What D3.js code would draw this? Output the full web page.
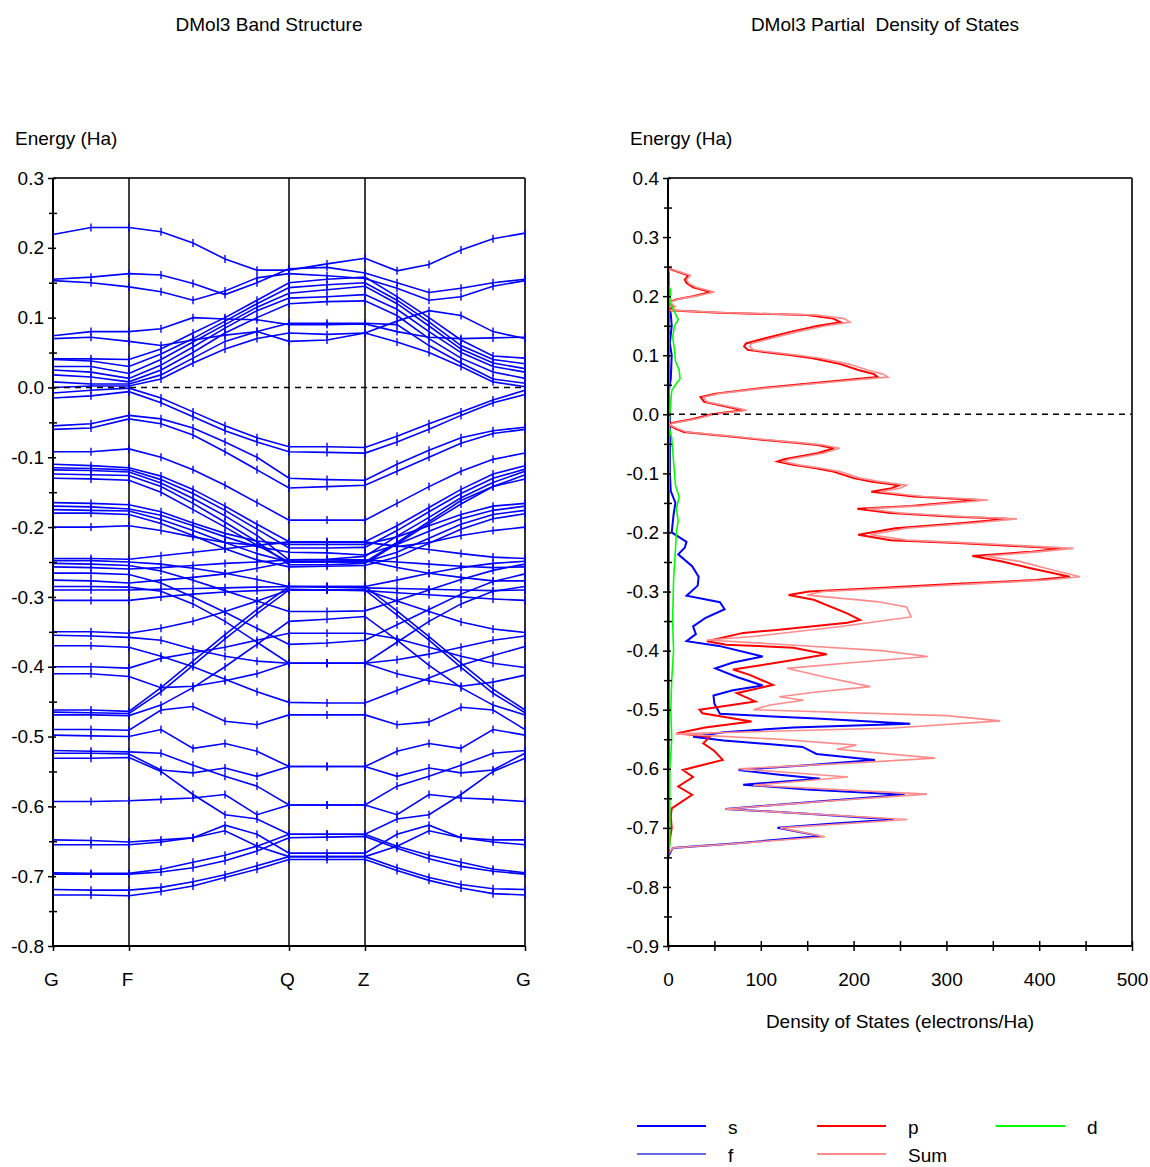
<!DOCTYPE html>
<html><head><meta charset="utf-8">
<script src="https://cdn.jsdelivr.net/npm/d3@7"></script>
<style>
body{margin:0;background:#fff;}
text{font-family:"Liberation Sans",Arial,sans-serif;font-size:19px;fill:#000;}
</style>
</head><body>
<svg id="chart" width="1150" height="1167"></svg>
<script>
// ---------------- DATA ----------------
// k-path distances of the 15 k-points (G,k1,F,k3,k4,k5,k6,Q,k8,Z,k10,k11,k12,k13,G)
const kDist = [0, 0.38, 0.76, 1.08, 1.40, 1.72, 2.04, 2.36, 2.74, 3.12, 3.44, 3.76, 4.08, 4.40, 4.72];
const kLabels = ["G", "F", "Q", "Z", "G"];
const kLabelIndex = [0, 2, 7, 9, 14];
const bandYTicks = [0.3, 0.2, 0.1, 0.0, -0.1, -0.2, -0.3, -0.4, -0.5, -0.6, -0.7, -0.8];
const bandYMinor = [0.25, 0.15, 0.05, -0.05, -0.15, -0.25, -0.35, -0.45, -0.55, -0.65, -0.75];
const dosYTicks = [0.4, 0.3, 0.2, 0.1, 0.0, -0.1, -0.2, -0.3, -0.4, -0.5, -0.6, -0.7, -0.8, -0.9];
const dosYMinor = [0.35, 0.25, 0.15, 0.05, -0.05, -0.15, -0.25, -0.35, -0.45, -0.55, -0.65, -0.75, -0.85];
const dosXTicks = [0, 100, 200, 300, 400, 500];
const dosXMinor = [50, 150, 250, 350, 450];

// Conduction bands (Ha)
const conductionBands = [
  [0.219,0.229,0.229,0.223,0.207,0.184,0.168,0.168,0.177,0.185,0.167,0.176,0.197,0.213,0.221],
  [0.155,0.158,0.163,0.161,0.149,0.133,0.150,0.170,0.172,0.164,0.150,0.136,0.142,0.150,0.155],
  [0.153,0.150,0.144,0.137,0.125,0.138,0.157,0.163,0.160,0.156,0.142,0.125,0.130,0.145,0.153],
  [0.074,0.080,0.080,0.084,0.100,0.098,0.097,0.090,0.090,0.091,0.080,0.072,0.070,0.071,0.072],
  [0.070,0.072,0.066,0.060,0.068,0.075,0.080,0.066,0.068,0.078,0.095,0.110,0.103,0.080,0.070],
  [0.041,0.041,0.040,0.055,0.078,0.100,0.125,0.150,0.155,0.158,0.130,0.100,0.068,0.045,0.042],
  [0.040,0.038,0.030,0.048,0.070,0.095,0.120,0.143,0.147,0.150,0.125,0.094,0.060,0.040,0.034],
  [0.030,0.030,0.020,0.040,0.065,0.090,0.115,0.135,0.140,0.145,0.120,0.088,0.055,0.035,0.027],
  [0.025,0.022,0.013,0.032,0.058,0.085,0.110,0.128,0.130,0.133,0.112,0.080,0.050,0.030,0.022],
  [0.018,0.015,0.008,0.025,0.050,0.078,0.100,0.120,0.123,0.124,0.103,0.070,0.042,0.022,0.013],
  [0.008,0.005,0.005,0.018,0.042,0.066,0.080,0.092,0.092,0.092,0.090,0.060,0.035,0.012,0.006],
  [0.000,0.002,0.002,0.012,0.035,0.055,0.070,0.078,0.076,0.078,0.065,0.050,0.030,0.008,0.001]
];
// Upper valence bands (Ha)
const valenceBands = [
  [-0.008,-0.004,-0.001,-0.015,-0.035,-0.055,-0.072,-0.085,-0.085,-0.086,-0.070,-0.052,-0.035,-0.018,-0.004],
  [-0.015,-0.012,-0.006,-0.022,-0.042,-0.062,-0.078,-0.092,-0.093,-0.094,-0.078,-0.060,-0.040,-0.022,-0.010],
  [-0.055,-0.052,-0.040,-0.045,-0.058,-0.078,-0.100,-0.130,-0.132,-0.133,-0.110,-0.090,-0.072,-0.062,-0.057],
  [-0.060,-0.058,-0.045,-0.052,-0.068,-0.092,-0.118,-0.144,-0.142,-0.140,-0.120,-0.100,-0.080,-0.066,-0.060],
  [-0.092,-0.092,-0.088,-0.100,-0.118,-0.140,-0.165,-0.190,-0.190,-0.190,-0.166,-0.142,-0.120,-0.103,-0.094],
  [-0.110,-0.112,-0.115,-0.127,-0.146,-0.170,-0.196,-0.221,-0.221,-0.221,-0.198,-0.172,-0.146,-0.124,-0.112],
  [-0.115,-0.116,-0.118,-0.132,-0.152,-0.176,-0.203,-0.230,-0.230,-0.229,-0.205,-0.178,-0.152,-0.130,-0.117],
  [-0.118,-0.119,-0.121,-0.137,-0.159,-0.184,-0.212,-0.247,-0.246,-0.242,-0.213,-0.186,-0.158,-0.136,-0.120],
  [-0.124,-0.125,-0.126,-0.142,-0.166,-0.193,-0.221,-0.254,-0.254,-0.252,-0.224,-0.195,-0.167,-0.142,-0.125],
  [-0.130,-0.131,-0.133,-0.150,-0.175,-0.200,-0.226,-0.250,-0.250,-0.250,-0.222,-0.192,-0.162,-0.142,-0.131],
  [-0.165,-0.166,-0.168,-0.178,-0.194,-0.209,-0.220,-0.225,-0.225,-0.225,-0.214,-0.198,-0.182,-0.170,-0.166],
  [-0.170,-0.171,-0.174,-0.183,-0.198,-0.214,-0.228,-0.236,-0.237,-0.240,-0.225,-0.206,-0.188,-0.176,-0.170],
  [-0.175,-0.176,-0.177,-0.189,-0.205,-0.222,-0.238,-0.250,-0.250,-0.250,-0.236,-0.216,-0.196,-0.182,-0.176],
  [-0.180,-0.180,-0.182,-0.195,-0.212,-0.231,-0.247,-0.257,-0.256,-0.255,-0.243,-0.223,-0.203,-0.188,-0.181],
  [-0.200,-0.200,-0.198,-0.205,-0.214,-0.222,-0.226,-0.221,-0.221,-0.221,-0.228,-0.222,-0.212,-0.205,-0.200],
  [-0.245,-0.245,-0.246,-0.241,-0.236,-0.231,-0.226,-0.222,-0.222,-0.222,-0.227,-0.232,-0.238,-0.243,-0.245],
  [-0.248,-0.248,-0.250,-0.253,-0.259,-0.266,-0.275,-0.285,-0.285,-0.285,-0.276,-0.266,-0.258,-0.252,-0.249],
  [-0.252,-0.253,-0.255,-0.263,-0.276,-0.291,-0.306,-0.321,-0.321,-0.320,-0.305,-0.290,-0.275,-0.262,-0.253],
  [-0.257,-0.258,-0.260,-0.258,-0.255,-0.252,-0.250,-0.247,-0.247,-0.247,-0.250,-0.253,-0.256,-0.258,-0.257],
  [-0.266,-0.266,-0.268,-0.280,-0.300,-0.322,-0.345,-0.368,-0.366,-0.362,-0.340,-0.318,-0.296,-0.278,-0.267],
  [-0.276,-0.277,-0.280,-0.276,-0.272,-0.267,-0.259,-0.250,-0.249,-0.248,-0.258,-0.266,-0.272,-0.277,-0.277],
  [-0.285,-0.285,-0.286,-0.292,-0.310,-0.335,-0.365,-0.395,-0.395,-0.395,-0.365,-0.335,-0.310,-0.292,-0.285],
  [-0.290,-0.290,-0.290,-0.289,-0.288,-0.287,-0.286,-0.285,-0.286,-0.287,-0.288,-0.289,-0.290,-0.291,-0.290],
  [-0.305,-0.305,-0.305,-0.300,-0.296,-0.293,-0.291,-0.289,-0.290,-0.291,-0.294,-0.297,-0.300,-0.303,-0.305],
  [-0.350,-0.350,-0.352,-0.345,-0.335,-0.321,-0.306,-0.290,-0.290,-0.290,-0.306,-0.321,-0.336,-0.346,-0.351],
  [-0.355,-0.356,-0.358,-0.362,-0.375,-0.385,-0.392,-0.395,-0.395,-0.395,-0.390,-0.382,-0.372,-0.362,-0.356],
  [-0.370,-0.370,-0.372,-0.385,-0.400,-0.418,-0.436,-0.451,-0.452,-0.452,-0.434,-0.416,-0.398,-0.384,-0.371],
  [-0.400,-0.400,-0.402,-0.388,-0.380,-0.372,-0.362,-0.352,-0.352,-0.352,-0.360,-0.372,-0.385,-0.395,-0.401],
  [-0.410,-0.410,-0.414,-0.430,-0.428,-0.420,-0.410,-0.395,-0.395,-0.395,-0.410,-0.420,-0.428,-0.422,-0.412]
];
// Lower valence bands (Ha)
const lowerBands = [
  [-0.462,-0.462,-0.464,-0.430,-0.392,-0.354,-0.318,-0.285,-0.285,-0.285,-0.320,-0.357,-0.395,-0.432,-0.462],
  [-0.465,-0.466,-0.467,-0.436,-0.398,-0.360,-0.324,-0.290,-0.290,-0.290,-0.326,-0.362,-0.401,-0.438,-0.466],
  [-0.469,-0.469,-0.470,-0.455,-0.430,-0.400,-0.368,-0.335,-0.332,-0.328,-0.362,-0.398,-0.430,-0.455,-0.469],
  [-0.490,-0.490,-0.491,-0.462,-0.457,-0.478,-0.483,-0.469,-0.469,-0.469,-0.483,-0.479,-0.458,-0.462,-0.490],
  [-0.498,-0.499,-0.500,-0.490,-0.517,-0.510,-0.521,-0.543,-0.543,-0.543,-0.521,-0.510,-0.517,-0.490,-0.498],
  [-0.520,-0.521,-0.522,-0.524,-0.541,-0.557,-0.571,-0.598,-0.598,-0.598,-0.571,-0.557,-0.541,-0.524,-0.520],
  [-0.524,-0.524,-0.525,-0.548,-0.552,-0.545,-0.557,-0.543,-0.543,-0.543,-0.557,-0.545,-0.552,-0.548,-0.524],
  [-0.531,-0.531,-0.530,-0.550,-0.583,-0.612,-0.618,-0.640,-0.640,-0.640,-0.618,-0.612,-0.583,-0.550,-0.531],
  [-0.593,-0.593,-0.592,-0.590,-0.588,-0.583,-0.612,-0.598,-0.598,-0.598,-0.612,-0.583,-0.588,-0.590,-0.593],
  [-0.648,-0.649,-0.651,-0.648,-0.645,-0.627,-0.640,-0.667,-0.667,-0.667,-0.640,-0.627,-0.645,-0.648,-0.648],
  [-0.655,-0.655,-0.655,-0.651,-0.645,-0.635,-0.657,-0.672,-0.672,-0.672,-0.657,-0.635,-0.645,-0.651,-0.655],
  [-0.695,-0.696,-0.696,-0.690,-0.680,-0.670,-0.657,-0.640,-0.640,-0.640,-0.657,-0.670,-0.680,-0.690,-0.695],
  [-0.697,-0.697,-0.697,-0.694,-0.688,-0.678,-0.664,-0.645,-0.644,-0.643,-0.660,-0.675,-0.686,-0.693,-0.697],
  [-0.719,-0.720,-0.720,-0.716,-0.708,-0.698,-0.685,-0.672,-0.672,-0.672,-0.688,-0.702,-0.712,-0.718,-0.719],
  [-0.727,-0.727,-0.728,-0.722,-0.714,-0.702,-0.690,-0.676,-0.676,-0.676,-0.692,-0.706,-0.717,-0.725,-0.727]
];

// PDOS curves: [energy (Ha), DOS (electrons/Ha)]
const dosSum = [
[0.30,0],[0.25,0],[0.245,5],[0.235,24],[0.228,20],[0.222,22],[0.215,30],[0.207,50],[0.200,30],[0.195,12],[0.190,2],[0.182,8],[0.176,3],[0.172,60],[0.168,160],[0.162,190],[0.156,196],[0.150,170],[0.140,140],[0.130,115],[0.120,90],[0.115,88],[0.109,92],[0.100,140],[0.095,164],[0.085,195],[0.075,215],[0.068,232],[0.063,237],[0.055,180],[0.045,110],[0.035,55],[0.029,38],[0.021,42],[0.012,70],[0.007,85],[0.000,50],[-0.008,30],[-0.015,5],[-0.018,2],[-0.024,10],[-0.030,20],[-0.038,74],[-0.044,112],[-0.048,142],[-0.052,167],[-0.0575,185],[-0.066,167],[-0.076,131],[-0.080,124],[-0.086,142],[-0.091,164],[-0.097,185],[-0.108,207],[-0.114,228],[-0.120,257],[-0.125,250],[-0.131,228],[-0.139,275],[-0.145,345],[-0.155,272],[-0.160,214],[-0.167,250],[-0.173,315],[-0.177,376],[-0.184,329],[-0.193,257],[-0.204,218],[-0.213,257],[-0.218,329],[-0.227,437],[-0.2325,401],[-0.240,342],[-0.249,379],[-0.261,408],[-0.275,444],[-0.2805,408],[-0.287,329],[-0.2945,239],[-0.300,167],[-0.306,150],[-0.317,225],[-0.326,257],[-0.343,262],[-0.352,220],[-0.360,182],[-0.376,92],[-0.382,42],[-0.390,128],[-0.400,230],[-0.410,280],[-0.420,200],[-0.430,128],[-0.445,170],[-0.461,218],[-0.470,160],[-0.478,120],[-0.484,146],[-0.492,110],[-0.500,92],[-0.510,300],[-0.519,358],[-0.531,243],[-0.541,8],[-0.550,120],[-0.560,203],[-0.567,182],[-0.582,288],[-0.592,180],[-0.600,76],[-0.614,194],[-0.628,92],[-0.643,279],[-0.655,170],[-0.668,62],[-0.686,258],[-0.693,190],[-0.700,121],[-0.715,169],[-0.726,78],[-0.734,5],[-0.746,0],[-0.800,0]
];
const dosP = [
[0.25,0],[0.245,4],[0.235,22],[0.228,18],[0.222,20],[0.215,27],[0.207,46],[0.200,27],[0.195,10],[0.190,1],[0.182,5],[0.176,1],[0.172,55],[0.168,150],[0.162,178],[0.156,186],[0.150,162],[0.140,133],[0.130,108],[0.120,84],[0.115,82],[0.109,86],[0.100,133],[0.095,156],[0.085,186],[0.075,205],[0.068,222],[0.063,226],[0.055,172],[0.045,104],[0.035,51],[0.029,35],[0.021,39],[0.012,66],[0.007,81],[0.000,47],[-0.008,27],[-0.015,3],[-0.018,1],[-0.024,8],[-0.030,17],[-0.038,70],[-0.044,107],[-0.048,137],[-0.052,161],[-0.0575,179],[-0.066,161],[-0.076,125],[-0.080,118],[-0.086,136],[-0.091,158],[-0.097,178],[-0.108,200],[-0.114,220],[-0.120,249],[-0.125,241],[-0.131,219],[-0.139,265],[-0.145,335],[-0.155,262],[-0.160,204],[-0.167,240],[-0.173,304],[-0.177,365],[-0.184,318],[-0.193,245],[-0.204,205],[-0.213,240],[-0.218,312],[-0.227,425],[-0.2325,392],[-0.240,328],[-0.249,360],[-0.261,392],[-0.275,433],[-0.2805,396],[-0.287,312],[-0.2945,222],[-0.300,152],[-0.306,130],[-0.314,157],[-0.337,193],[-0.348,207],[-0.353,193],[-0.365,117],[-0.370,81],[-0.384,42],[-0.390,63],[-0.395,135],[-0.406,171],[-0.416,135],[-0.432,70],[-0.441,88],[-0.458,113],[-0.472,74],[-0.486,94],[-0.500,34],[-0.506,37],[-0.520,90],[-0.530,40],[-0.540,10],[-0.546,45],[-0.557,38],[-0.570,50],[-0.585,59],[-0.602,16],[-0.614,27],[-0.630,11],[-0.644,26],[-0.667,4],[-0.680,3],[-0.700,4],[-0.720,2],[-0.745,0]
];
const dosS = [
[0.25,0],[0.20,0],[0.18,1],[0.17,3],[0.15,4],[0.12,2],[0.10,4],[0.06,3],[0.04,1],[0.00,2],[-0.05,2],[-0.10,2],[-0.13,3],[-0.15,8],[-0.17,6],[-0.20,4],[-0.216,20],[-0.226,18],[-0.237,11],[-0.257,26],[-0.275,33],[-0.290,32],[-0.307,20],[-0.318,56],[-0.330,61],[-0.345,40],[-0.359,27],[-0.372,30],[-0.384,20],[-0.392,55],[-0.410,102],[-0.420,70],[-0.430,51],[-0.445,75],[-0.459,102],[-0.467,70],[-0.476,49],[-0.490,50],[-0.507,56],[-0.515,160],[-0.524,261],[-0.530,135],[-0.538,60],[-0.546,27],[-0.552,60],[-0.563,145],[-0.575,160],[-0.585,223],[-0.594,150],[-0.602,76],[-0.610,120],[-0.617,164],[-0.627,81],[-0.635,150],[-0.644,255],[-0.655,165],[-0.668,62],[-0.676,150],[-0.686,243],[-0.693,175],[-0.700,118],[-0.714,164],[-0.726,75],[-0.734,5],[-0.750,0]
];
const dosD = [
[0.22,0],[0.21,3],[0.19,2],[0.18,5],[0.17,8],[0.16,11],[0.15,7],[0.13,5],[0.11,7],[0.09,8],[0.075,12],[0.06,13],[0.05,8],[0.04,4],[0.02,3],[0.0,2],[-0.02,1],[-0.04,4],[-0.08,6],[-0.12,8],[-0.14,12],[-0.16,9],[-0.18,11],[-0.20,9],[-0.23,8],[-0.28,6],[-0.35,5],[-0.40,6],[-0.45,4],[-0.50,3],[-0.55,4],[-0.60,2],[-0.65,2],[-0.73,2],[-0.74,0]
];
const dosF = [[0.25,0],[0.24,1.5],[0.10,1.5],[-0.20,1.5],[-0.50,1.5],[-0.745,1.5],[-0.75,0]];

const legendItems = [
  {name:"s", color:"#0000ff"}, {name:"p", color:"#ff0000"}, {name:"d", color:"#00ff00"},
  {name:"f", color:"#6a6ae6"}, {name:"Sum", color:"#ff8c8c"}
];

// ---------------- DRAW ----------------
const svg = d3.select("#chart");
const fmt = d => d.toFixed(1);

function styleAxis(g) {
  g.select(".domain").attr("stroke", "#000").attr("stroke-width", 2);
  g.selectAll(".tick line").attr("stroke", "#000").attr("stroke-width", 1.5);
  g.selectAll(".tick text").style("font-size", "19px").attr("fill", "#000");
}

// ===== Band structure panel =====
const bx = d3.scaleLinear().domain([0, kDist[kDist.length - 1]]).range([53, 525]);
const by = d3.scaleLinear().domain([-0.8, 0.3]).range([946, 178]);

svg.append("text").attr("x", 269).attr("y", 31).attr("text-anchor", "middle").text("DMol3 Band Structure");
svg.append("text").attr("x", 15).attr("y", 145).text("Energy (Ha)");

svg.append("line").attr("x1", 53).attr("x2", 525).attr("y1", 178).attr("y2", 178).attr("stroke", "#333").attr("stroke-width", 2);
svg.append("line").attr("x1", 525).attr("x2", 525).attr("y1", 178).attr("y2", 946).attr("stroke", "#333").attr("stroke-width", 2);
kLabelIndex.slice(1, -1).forEach(i => {
  svg.append("line").attr("x1", bx(kDist[i])).attr("x2", bx(kDist[i])).attr("y1", 178).attr("y2", 946)
    .attr("stroke", "#000").attr("stroke-width", 1.5);
});

const allBands = conductionBands.concat(valenceBands, lowerBands);
const bandLine = d3.line().x((d, i) => bx(kDist[i])).y(d => by(d));
const bandG = svg.append("g");
allBands.forEach(b => {
  bandG.append("path").attr("d", bandLine(b)).attr("fill", "none").attr("stroke", "#0000ff").attr("stroke-width", 1.6);
  b.forEach((e, i) => {
    bandG.append("line").attr("x1", bx(kDist[i])).attr("x2", bx(kDist[i]))
      .attr("y1", by(e) - 4).attr("y2", by(e) + 4).attr("stroke", "#0000ff").attr("stroke-width", 1.4);
  });
});
svg.append("line").attr("x1", 53).attr("x2", 525).attr("y1", by(0)).attr("y2", by(0))
  .attr("stroke", "#000").attr("stroke-width", 1.5).attr("stroke-dasharray", "6,5");

const bYAxis = svg.append("g").attr("transform", "translate(53,0)")
  .call(d3.axisLeft(by).tickValues(bandYTicks).tickFormat(fmt).tickSize(5).tickPadding(4));
styleAxis(bYAxis);
bYAxis.selectAll(".tick line").attr("x1", 3);
bYAxis.select(".domain").attr("d", "M0,178V946");
const bYMinor = svg.append("g").attr("transform", "translate(53,0)")
  .call(d3.axisLeft(by).tickValues(bandYMinor).tickFormat("").tickSize(4));
bYMinor.select(".domain").remove();
bYMinor.selectAll(".tick line").attr("x1", 4).attr("stroke", "#000").attr("stroke-width", 1.5);

const bXAxis = svg.append("g").attr("transform", "translate(0,946)")
  .call(d3.axisBottom(bx).tickValues(kLabelIndex.map(i => kDist[i])).tickFormat((d, i) => kLabels[i]).tickSize(5).tickPadding(22));
styleAxis(bXAxis);
bXAxis.select(".domain").attr("d", "M53,0H525");
bXAxis.selectAll(".tick text").attr("dx", -2);

// ===== PDOS panel =====
const dx = d3.scaleLinear().domain([0, 500]).range([668, 1132]);
const dy = d3.scaleLinear().domain([-0.9, 0.4]).range([946, 178]);

svg.append("text").attr("x", 885).attr("y", 31).attr("text-anchor", "middle").style("white-space", "pre").text("DMol3 Partial  Density of States");
svg.append("text").attr("x", 630).attr("y", 145).text("Energy (Ha)");
svg.append("text").attr("x", 900).attr("y", 1028).attr("text-anchor", "middle").text("Density of States (electrons/Ha)");

svg.append("line").attr("x1", 668).attr("x2", 1132).attr("y1", 178).attr("y2", 178).attr("stroke", "#333").attr("stroke-width", 2);
svg.append("line").attr("x1", 1132).attr("x2", 1132).attr("y1", 178).attr("y2", 946).attr("stroke", "#333").attr("stroke-width", 2);

const dosLine = d3.line().x(d => dx(d[1])).y(d => dy(d[0]));
const dosG = svg.append("g");
dosG.append("path").attr("d", dosLine(dosS)).attr("fill", "none").attr("stroke", "#0000ff").attr("stroke-width", 2);
dosG.append("path").attr("d", dosLine(dosP)).attr("fill", "none").attr("stroke", "#ff0000").attr("stroke-width", 2);
dosG.append("path").attr("d", dosLine(dosSum)).attr("fill", "none").attr("stroke", "#ff8c8c").attr("stroke-width", 1.6);
dosG.append("path").attr("d", dosLine(dosF)).attr("fill", "none").attr("stroke", "#6a6ae6").attr("stroke-width", 1.2);
dosG.append("path").attr("d", dosLine(dosD)).attr("fill", "none").attr("stroke", "#00ff00").attr("stroke-width", 1.6);

svg.append("line").attr("x1", 668).attr("x2", 1132).attr("y1", dy(0)).attr("y2", dy(0))
  .attr("stroke", "#000").attr("stroke-width", 1.5).attr("stroke-dasharray", "6,5");

const dYAxis = svg.append("g").attr("transform", "translate(668,0)")
  .call(d3.axisLeft(dy).tickValues(dosYTicks).tickFormat(fmt).tickSize(5).tickPadding(4));
styleAxis(dYAxis);
dYAxis.selectAll(".tick line").attr("x1", 3);
dYAxis.select(".domain").attr("d", "M0,178V946");
const dYMinor = svg.append("g").attr("transform", "translate(668,0)")
  .call(d3.axisLeft(dy).tickValues(dosYMinor).tickFormat("").tickSize(4));
dYMinor.select(".domain").remove();
dYMinor.selectAll(".tick line").attr("x1", 4).attr("stroke", "#000").attr("stroke-width", 1.5);

const dXAxis = svg.append("g").attr("transform", "translate(0,946)")
  .call(d3.axisBottom(dx).tickValues(dosXTicks).tickFormat(d3.format("d")).tickSize(5).tickPadding(22));
styleAxis(dXAxis);
dXAxis.selectAll(".tick line").attr("y1", -5);
dXAxis.select(".domain").attr("d", "M668,0H1132");
const dXMinor = svg.append("g").attr("transform", "translate(0,946)")
  .call(d3.axisBottom(dx).tickValues(dosXMinor).tickFormat("").tickSize(5));
dXMinor.select(".domain").remove();
dXMinor.selectAll(".tick line").attr("y1", -5).attr("stroke", "#000").attr("stroke-width", 1.5);

// ===== Legend =====
const legendPos = [[637, 1126], [817, 1126], [996, 1126], [637, 1154], [817, 1154]];
legendItems.forEach((it, i) => {
  const [lx, ly] = legendPos[i];
  svg.append("line").attr("x1", lx).attr("x2", lx + 69).attr("y1", ly).attr("y2", ly)
    .attr("stroke", it.color).attr("stroke-width", 2);
  svg.append("text").attr("x", lx + 91).attr("y", ly + 8).text(it.name);
});
</script>
</body></html>
